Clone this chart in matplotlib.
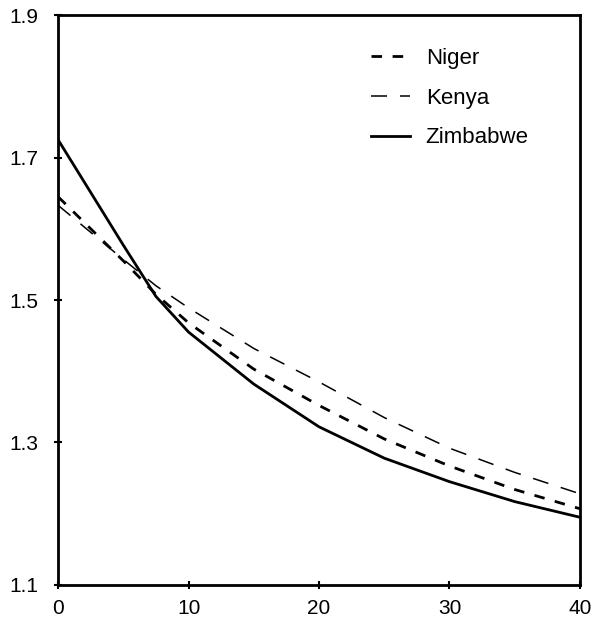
import matplotlib
matplotlib.use("Agg")
import matplotlib.pyplot as plt

plt.rcParams['font.family'] = ['Liberation Sans', 'DejaVu Sans']

# values
years = [0, 2.5, 5, 7.5, 10, 15, 20, 25, 30, 35, 40]
niger = [1.645, 1.600, 1.555, 1.508, 1.468, 1.403, 1.352, 1.305, 1.267, 1.234, 1.207]
kenya = [1.633, 1.595, 1.557, 1.520, 1.489, 1.432, 1.385, 1.335, 1.292, 1.258, 1.228]
zimbabwe = [1.725, 1.651, 1.577, 1.505, 1.455, 1.382, 1.322, 1.278, 1.245, 1.217, 1.195]

xticks = [0, 10, 20, 30, 40]
yticks = [1.1, 1.3, 1.5, 1.7, 1.9]

fig = plt.figure(figsize=(5.93, 6.31), dpi=100)
ax = fig.add_axes([0.098, 0.073, 0.880, 0.903])

ax.plot(years, niger, color='black', lw=2.0, dashes=(3.8, 3.8), label='Niger')
ax.plot(years, kenya, color='black', lw=1.1, dashes=(10.5, 8.5), label='Kenya')
ax.plot(years, zimbabwe, color='black', lw=2.0, label='Zimbabwe')

ax.set_xlim(0, 40)
ax.set_ylim(1.1, 1.9)
ax.set_xticks(xticks)
ax.set_yticks(yticks)
ax.set_yticklabels([f"{v:.1f}" for v in yticks])
ax.tick_params(direction='inout', length=6, width=1.5, labelsize=15, color='black')
ax.tick_params(axis='y', pad=11)
ax.tick_params(axis='x', pad=7)
for s in ax.spines.values():
    s.set_linewidth(2)

ax.legend(loc='upper left', bbox_to_anchor=(0.6, 0.943), frameon=False,
          borderaxespad=0, borderpad=0,
          fontsize=16, handlelength=1.75, handletextpad=0.7, labelspacing=0.85)

fig.savefig("out.png", dpi=100)
